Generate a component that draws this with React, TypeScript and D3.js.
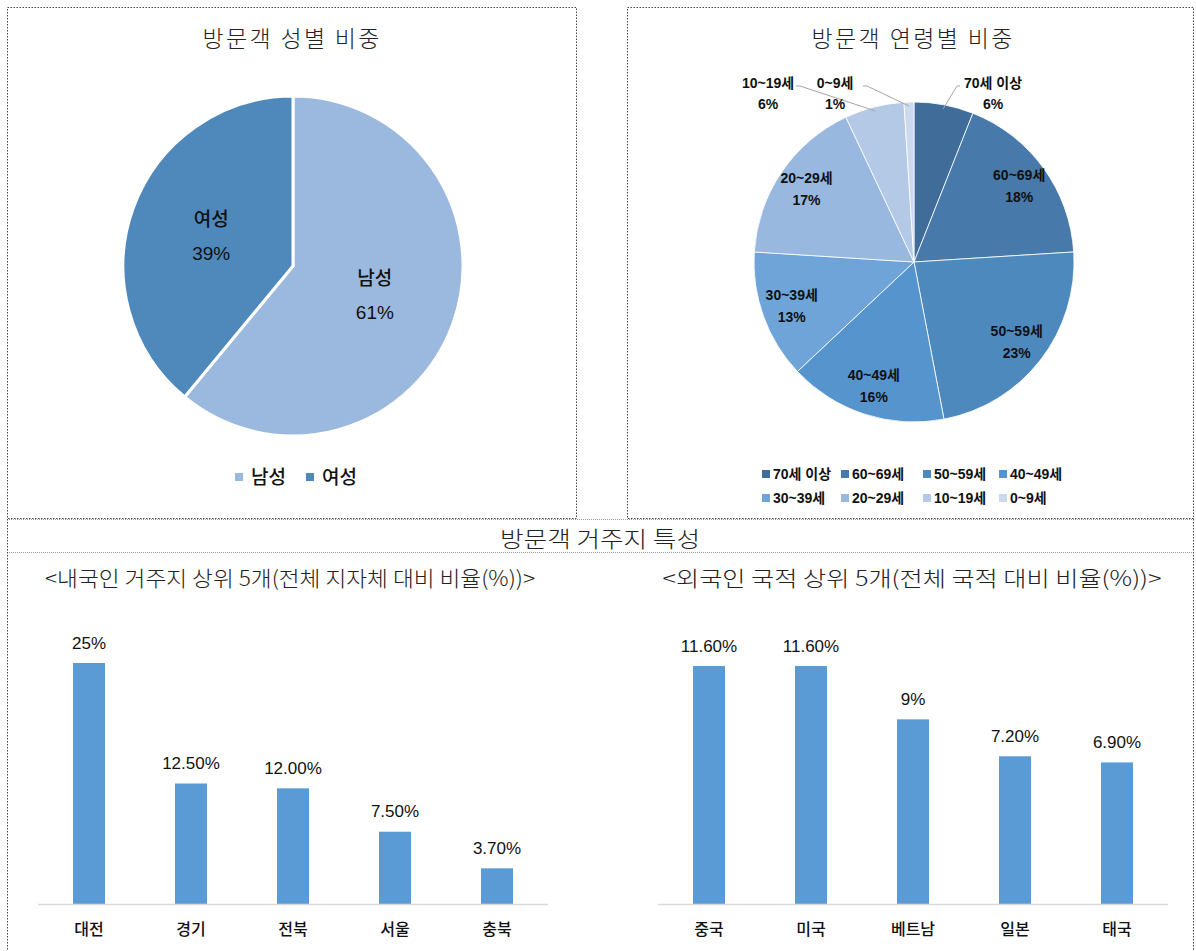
import React from 'react';
import * as d3 from 'd3';

// ---------- data ----------
const genderLabels = ['남성', '여성'];
const genderValues = [61, 39];
const genderColors = ['#9BB9DF', '#4F88BB'];

const ageLabels = ['70세 이상', '60~69세', '50~59세', '40~49세', '30~39세', '20~29세', '10~19세', '0~9세'];
const ageValues = [6, 18, 23, 16, 13, 17, 6, 1];
const ageColors = ['#3F6C98', '#4779AA', '#4E89BD', '#5694CD', '#6EA4D8', '#98B8DF', '#B4C9E5', '#CCDAEE'];

const domesticRegions = ['대전', '경기', '전북', '서울', '충북'];
const domesticShares = [25, 12.5, 12.0, 7.5, 3.7];
const domesticLabels = ['25%', '12.50%', '12.00%', '7.50%', '3.70%'];

const foreignNations = ['중국', '미국', '베트남', '일본', '태국'];
const foreignShares = [11.6, 11.6, 9, 7.2, 6.9];
const foreignLabels = ['11.60%', '11.60%', '9%', '7.20%', '6.90%'];

const titleGender = '방문객 성별 비중';
const titleAge = '방문객 연령별 비중';
const titleResidence = '방문객 거주지 특성';
const subDomestic = '<내국인 거주지 상위 5개(전체 지자체 대비 비율(%))>';
const subForeign = '<외국인 국적 상위 5개(전체 국적 대비 비율(%))>';

// ---------- style ----------
const SANS = '"Liberation Sans", "Noto Sans CJK KR", sans-serif';
const KR = '"Noto Sans CJK KR", sans-serif';
const BAR = '#5B9BD5';

function GenderPie() {
  const cx = 293, cy = 266, r = 170;
  const pie = d3.pie<number>().sort(null).value(d => d)(genderValues);
  const arc = d3.arc<d3.PieArcDatum<number>>().innerRadius(0).outerRadius(r);
  const lab = d3.arc<d3.PieArcDatum<number>>().innerRadius(87).outerRadius(87);
  return (
    <g>
      <g transform={`translate(${cx},${cy})`}>
        {pie.map((p, i) => (
          <path key={i} d={arc(p) || ''} fill={genderColors[i]} stroke="#fff" strokeWidth={3} />
        ))}
        {pie.map((p, i) => {
          const [x, y] = lab.centroid(p);
          return (
            <g key={'l' + i} fontFamily={SANS} fontSize={19} fontWeight={500} fill="#111" textAnchor="middle">
              <text x={x} y={y - 17} dominantBaseline="central">{genderLabels[i]}</text>
              <text x={x} y={y + 17} dominantBaseline="central">{genderValues[i]}%</text>
            </g>
          );
        })}
      </g>
      {genderLabels.map((l, i) => {
        const x0 = 235 + i * 71;
        return (
          <g key={'lg' + i}>
            <rect x={x0} y={473} width={8} height={8} fill={genderColors[i]} />
            <text x={x0 + 16} y={477} dominantBaseline="central" fontFamily={SANS} fontSize={19} fontWeight={500} fill="#111">{l}</text>
          </g>
        );
      })}
    </g>
  );
}

function AgePie() {
  const cx = 914, cy = 262, r = 160;
  const pie = d3.pie<number>().sort(null).value(d => d)(ageValues);
  const arc = d3.arc<d3.PieArcDatum<number>>().innerRadius(0).outerRadius(r);
  const lab = d3.arc<d3.PieArcDatum<number>>().innerRadius(130).outerRadius(130);
  const edge = d3.arc<d3.PieArcDatum<number>>().innerRadius(r - 4).outerRadius(r - 4);
  // outside label anchor positions (relative to pie centre) for thin slices
  const outside: Record<number, [number, number, number]> = {
    0: [79, -170, 1],
    6: [-146, -170, -1],
    7: [-79, -170, -1],
  };
  const legendX = [762, 841, 923, 999];
  return (
    <g>
      <g transform={`translate(${cx},${cy})`}>
        {pie.map((p, i) => (
          <path key={i} d={arc(p) || ''} fill={ageColors[i]} stroke="#fff" strokeWidth={0.8} />
        ))}
        {pie.map((p, i) => {
          const o = outside[i];
          if (o) {
            const [ex, ey] = edge.centroid(p);
            const tx = o[0], ty = o[1];
            const lineStartX = tx + (o[2] > 0 ? -36 : 32);
            return (
              <g key={'l' + i}>
                <polyline
                  points={`${ex},${ey} ${lineStartX},${ty - 6} ${lineStartX + (o[2] > 0 ? 3 : -4)},${ty - 6}`}
                  fill="none" stroke="#A6A6A6" strokeWidth={1} />
                <g fontFamily={SANS} fontSize={14} fontWeight={700} fill="#111" textAnchor="middle">
                  <text x={tx} y={ty - 9} dominantBaseline="central">{ageLabels[i]}</text>
                  <text x={tx} y={ty + 12} dominantBaseline="central">{ageValues[i]}%</text>
                </g>
              </g>
            );
          }
          const [x, y] = lab.centroid(p);
          return (
            <g key={'l' + i} fontFamily={SANS} fontSize={14} fontWeight={700} fill="#111" textAnchor="middle">
              <text x={x} y={y - 11} dominantBaseline="central">{ageLabels[i]}</text>
              <text x={x} y={y + 11} dominantBaseline="central">{ageValues[i]}%</text>
            </g>
          );
        })}
      </g>
      {ageLabels.map((l, i) => {
        const x0 = legendX[i % 4];
        const y0 = i < 4 ? 474 : 498;
        return (
          <g key={'lg' + i}>
            <rect x={x0} y={y0 - 4} width={8} height={8} fill={ageColors[i]} />
            <text x={x0 + 11} y={y0} dominantBaseline="central" fontFamily={SANS} fontSize={14} fontWeight={700} fill="#111">{l}</text>
          </g>
        );
      })}
    </g>
  );
}

function Bars({ cats, vals, labels, x0, x1, topY }: { cats: string[]; vals: number[]; labels: string[]; x0: number; x1: number; topY: number }) {
  const base = 904;
  const x = d3.scaleBand<string>().domain(cats).range([x0, x1]).paddingInner(0.686).paddingOuter(0.343);
  const y = d3.scaleLinear().domain([0, d3.max(vals) as number]).range([base, topY]);
  return (
    <g>
      {cats.map((c, i) => (
        <rect key={c} x={x(c)} y={y(vals[i])} width={x.bandwidth()} height={base - y(vals[i])} fill={BAR} />
      ))}
      <line x1={x0} x2={x1} y1={base + 0.5} y2={base + 0.5} stroke="#D9D9D9" strokeWidth={1.5} />
      {cats.map((c, i) => (
        <text key={'v' + c} x={(x(c) as number) + x.bandwidth() / 2} y={y(vals[i]) - 20} textAnchor="middle"
          dominantBaseline="central" fontFamily={SANS} fontSize={17} fill="#111">{labels[i]}</text>
      ))}
      {cats.map((c, i) => (
        <text key={'c' + c} x={(x(c) as number) + x.bandwidth() / 2} y={928} textAnchor="middle"
          dominantBaseline="central" fontFamily={KR} fontSize={16} fontWeight={500} fill="#111">{c}</text>
      ))}
    </g>
  );
}

export default function App() {
  const dot = '1.5 1.5';
  return (
    <svg width={1196} height={951} style={{ position: 'absolute', left: 0, top: 0, background: '#fff' }}>
      <rect x={0} y={0} width={1196} height={951} fill="#fff" />
      {/* frames */}
      <rect x={7.5} y={7.5} width={569} height={511} fill="none" stroke="#444" strokeWidth={1} strokeDasharray={dot} />
      <rect x={627.5} y={7.5} width={566} height={511} fill="none" stroke="#444" strokeWidth={1} strokeDasharray={dot} />
      <line x1={7} x2={1194} y1={519.5} y2={519.5} stroke="#999" strokeDasharray="1 1" />
      <line x1={7} x2={1194} y1={552.5} y2={552.5} stroke="#999" strokeDasharray="1 1" />
      <line x1={7.5} x2={7.5} y1={519} y2={951} stroke="#444" strokeDasharray={dot} />
      <line x1={1193.5} x2={1193.5} y1={519} y2={951} stroke="#444" strokeDasharray={dot} />

      {/* titles */}
      <text x={291} y={37} textAnchor="middle" dominantBaseline="central" fontFamily={KR} fontSize={23} fontWeight={300} fill="#222" textLength={177} lengthAdjust="spacing">{titleGender}</text>
      <text x={912} y={37} textAnchor="middle" dominantBaseline="central" fontFamily={KR} fontSize={23} fontWeight={300} fill="#222" textLength={201} lengthAdjust="spacing">{titleAge}</text>
      <text x={600} y={537} textAnchor="middle" dominantBaseline="central" fontFamily={KR} fontSize={22} fontWeight={300} fill="#222" textLength={200} lengthAdjust="spacingAndGlyphs">{titleResidence}</text>
      <text x={290} y={577} textAnchor="middle" dominantBaseline="central" fontFamily={KR} fontSize={21} fontWeight={300} fill="#222" textLength={490} lengthAdjust="spacingAndGlyphs">{subDomestic}</text>
      <text x={912} y={577} textAnchor="middle" dominantBaseline="central" fontFamily={KR} fontSize={21} fontWeight={300} fill="#222" textLength={499} lengthAdjust="spacingAndGlyphs">{subForeign}</text>

      <GenderPie />
      <AgePie />
      <Bars cats={domesticRegions} vals={domesticShares} labels={domesticLabels} x0={38} x1={548} topY={663} />
      <Bars cats={foreignNations} vals={foreignShares} labels={foreignLabels} x0={658} x1={1168} topY={666} />
    </svg>
  );
}
